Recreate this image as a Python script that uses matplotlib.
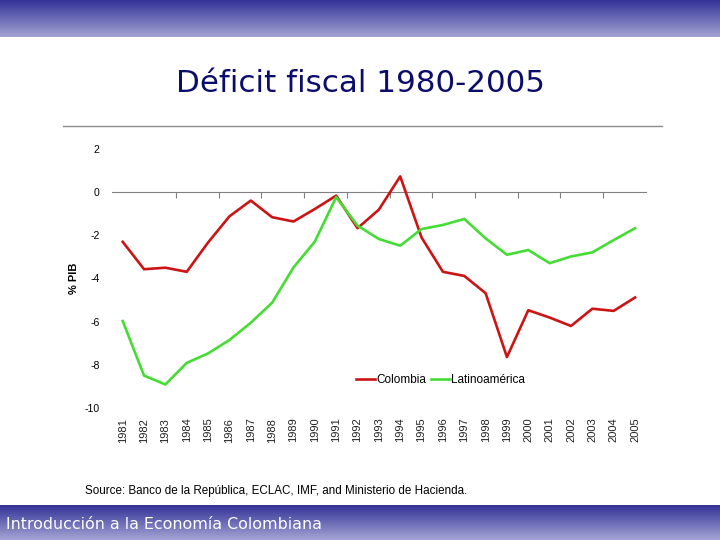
'''
Recreates the "Deficit fiscal 1980-2005" slide chart
'''
import numpy as np
import matplotlib
matplotlib.use('Agg')
import matplotlib.pyplot as plt
from matplotlib.lines import Line2D
from matplotlib.colors import LinearSegmentedColormap

# data (% of GDP)
years = list(range(1981, 2006))
colombia = [-2.3, -3.57, -3.5, -3.69, -2.33, -1.12, -0.39, -1.16, -1.36, -0.78,
            -0.16, -1.67, -0.81, 0.73, -2.1, -3.69, -3.88, -4.68, -7.64, -5.47,
            -5.81, -6.2, -5.4, -5.5, -4.88]
latam = [-5.97, -8.5, -8.91, -7.91, -7.47, -6.85, -6.05, -5.12, -3.49, -2.29,
         -0.23, -1.55, -2.17, -2.48, -1.71, -1.52, -1.24, -2.14, -2.9, -2.68,
         -3.29, -2.98, -2.79, -2.22, -1.67]
seriesNames = ['Colombia', 'Latinoamérica']
yticks = [2, 0, -2, -4, -6, -8, -10]

title = 'Déficit fiscal 1980-2005'
source = 'Source: Banco de la República, ECLAC, IMF, and Ministerio de Hacienda.'
footer = 'Introducción a la Economía Colombiana'


def gradientBar(fig, rect, top, bottom):
    '''
    Draws a vertical colour gradient band on the figure
    '''
    ax = fig.add_axes(rect)
    cmap = LinearSegmentedColormap.from_list('band', [top, bottom])
    ax.imshow(np.linspace(0, 1, 64).reshape(-1, 1), aspect='auto', cmap=cmap)
    ax.axis('off')
    return ax


def main():
    fig = plt.figure(figsize=(7.2, 5.4), dpi=100)
    fig.patch.set_facecolor('white')

    # slide decoration: top and bottom bands
    gradientBar(fig, [0, 1 - 37/540, 1, 37/540], '#333398', '#a2a2d2')
    bot = gradientBar(fig, [0, 0, 1, 35/540], '#333398', '#a4a4d4')
    bot.text(0.008, 0.45, footer, transform=bot.transAxes, color='white',
             fontsize=11.4, family='DejaVu Sans', va='center', ha='left')

    fig.text(0.5, 1 - 83/540, title, ha='center', va='center',
             fontsize=22.3, color='#0c0c6c', family='DejaVu Sans')
    fig.add_artist(Line2D([63/720, 662/720], [1 - 126/540] * 2,
                          color='#8c8c8c', lw=1))
    fig.text(85/720, 1 - 491/540, source, ha='left', va='center',
             fontsize=8.4, family='Liberation Sans', color='black')

    # main chart
    ax = fig.add_axes([0.1556, 1 - 408/540, 0.7412, (408 - 149)/540])
    ax.plot(years, colombia, color='#cc1414', lw=1.9, label=seriesNames[0])
    ax.plot(years, latam, color='#44dd33', lw=1.9, label=seriesNames[1])
    ax.set_xlim(years[0] - 0.5, years[-1] + 0.5)
    ax.set_ylim(-10, 2)

    for s in ax.spines.values():
        s.set_visible(False)

    ax.set_yticks(yticks)
    ax.set_yticklabels([str(t) for t in yticks], fontsize=7.6,
                       family='Liberation Sans')
    ax.tick_params(axis='y', length=0, pad=9)
    ax.set_xticks(years)
    ax.set_xticklabels([str(y) for y in years], rotation=90, fontsize=8,
                       family='Liberation Sans', color='#222222')
    ax.tick_params(axis='x', length=0, pad=7)
    ax.set_ylabel('% PIB', fontsize=8, fontweight='bold',
                  family='Liberation Sans', labelpad=4)

    # category axis crossing at zero, with a tick every second category
    zeroAx = ax.secondary_xaxis(10/12)
    for s in zeroAx.spines.values():
        s.set_color('#808080')
    zeroAx.set_xticks(np.arange(years[0] + 2.5, years[-1], 2))
    zeroAx.tick_params(axis='x', which='both', direction='out', length=4,
                       color='#808080', top=False, bottom=True,
                       labeltop=False, labelbottom=False)

    ax.legend(loc='center', bbox_to_anchor=(0.616, 0.1075), ncol=2,
              frameon=False, handlelength=1.6, columnspacing=0.4,
              handletextpad=0.1, prop={'family': 'Liberation Sans', 'size': 8.5})

    fig.savefig('out.png', dpi=100)


if __name__ == '__main__':
    main()
